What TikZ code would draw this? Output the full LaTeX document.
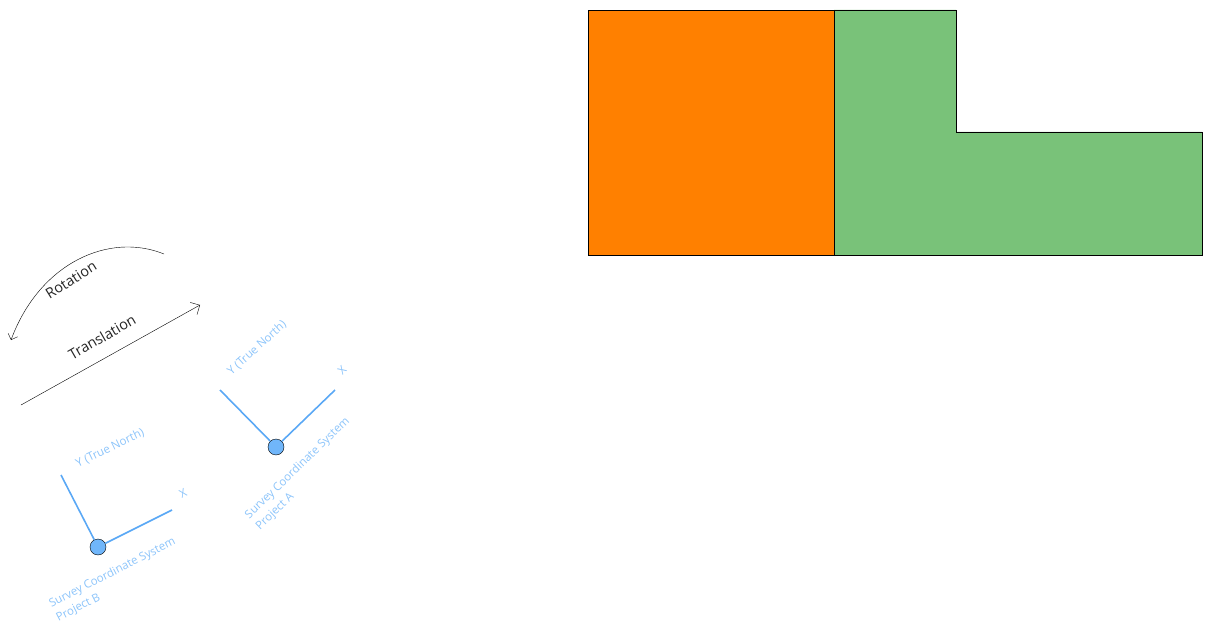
\documentclass[tikz,border=0pt]{standalone}
\usepackage{fontspec}
\setmainfont{Open Sans}
\usetikzlibrary{arrows.meta}
\definecolor{orangepart}{HTML}{FF8000}
\definecolor{greenpart}{HTML}{79C279}
\definecolor{axisblue}{HTML}{5AA8F5}
\definecolor{labelblue}{HTML}{8CC4FA}
\definecolor{originblue}{HTML}{70B6FA}
\definecolor{motiontext}{HTML}{262626}
\tikzset{
  axis/.style={draw=axisblue,line width=1.6pt},
  origin/.style={circle,draw=black,fill=originblue,minimum size=16bp,inner sep=0pt,thin},
  survey/.style={text=labelblue,font=\fontsize{11.5}{15.5}\selectfont,align=left},
  motion/.style={text=motiontext,font=\fontsize{14.5}{17}\selectfont},
}
\begin{document}
\begin{tikzpicture}[x=1bp,y=-1bp,inner sep=0pt]
\useasboundingbox(0,0) rectangle (1212,635);
% parts
\draw[fill=orangepart] (588,10) rectangle (834,255);
\draw[fill=greenpart] (834,10) -- (956,10) -- (956,132) -- (1202,132) -- (1202,255) -- (834,255) -- cycle;
% rotation and translation
\draw[-{Straight Barb[length=5bp]}] (164,254) .. controls (110,232) and (40,262) .. (11,340);
\node[motion,rotate=32] at (71,280) {Rotation};
\coordinate (tstart) at (21,405);
\coordinate (tend) at (200,305);
\draw[-{Straight Barb[length=7bp]}] (tstart) -- (tend);
\node[motion,rotate=30] at (102,337) {Translation};
% project A
\node[origin] (oA) at (276,447) {};
\coordinate (yA) at (220,390);
\coordinate (xA) at (335,390);
\draw[axis] (oA) -- (yA);
\draw[axis] (oA) -- (xA);
\node[survey,rotate=42] at (257,348) {Y (True North)};
\node[survey,rotate=45] at (342,370) {X};
\node[survey,rotate=44] at (303,474) {Survey Coordinate System\\Project A};
% project B
\node[origin] (oB) at (98,547) {};
\coordinate (yB) at (61,475);
\coordinate (xB) at (172,510);
\draw[axis] (oB) -- (yB);
\draw[axis] (oB) -- (xB);
\node[survey,rotate=26] at (110,448) {Y (True North)};
\node[survey,rotate=27] at (183,493) {X};
\node[survey,rotate=27] at (116,580) {Survey Coordinate System\\Project B};
\end{tikzpicture}
\end{document}
